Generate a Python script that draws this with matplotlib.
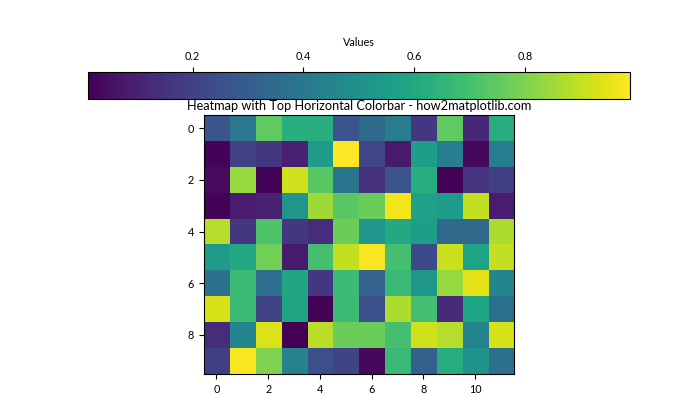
import numpy as np
from matplotlib import pyplot as plt

plt.rcParams['font.family'] = ['Lato', 'DejaVu Sans']
plt.rcParams['font.size'] = 7.8

# values (10 rows x 12 columns)
row0 = [0.27, 0.40, 0.75, 0.63, 0.63, 0.27, 0.35, 0.42, 0.17, 0.75, 0.12, 0.62]
row1 = [0.02, 0.20, 0.17, 0.10, 0.55, 0.99, 0.22, 0.08, 0.56, 0.43, 0.03, 0.42]
row2 = [0.04, 0.84, 0.02, 0.92, 0.74, 0.39, 0.15, 0.27, 0.62, 0.02, 0.16, 0.19]
row3 = [0.02, 0.09, 0.10, 0.52, 0.85, 0.74, 0.77, 0.97, 0.57, 0.55, 0.90, 0.09]
row4 = [0.88, 0.17, 0.72, 0.17, 0.14, 0.77, 0.52, 0.60, 0.56, 0.35, 0.35, 0.87]
row5 = [0.55, 0.60, 0.78, 0.08, 0.70, 0.90, 0.98, 0.70, 0.23, 0.91, 0.58, 0.90]
row6 = [0.38, 0.68, 0.36, 0.59, 0.17, 0.68, 0.32, 0.67, 0.53, 0.84, 0.95, 0.46]
row7 = [0.93, 0.68, 0.21, 0.59, 0.02, 0.68, 0.25, 0.87, 0.70, 0.13, 0.59, 0.37]
row8 = [0.14, 0.46, 0.94, 0.01, 0.89, 0.77, 0.77, 0.70, 0.92, 0.88, 0.45, 0.93]
row9 = [0.19, 0.98, 0.80, 0.45, 0.25, 0.21, 0.03, 0.67, 0.31, 0.62, 0.51, 0.37]

data = np.array([row0, row1, row2, row3, row4, row5, row6, row7, row8, row9])

fig, ax = plt.subplots(figsize=(7, 4.2), dpi=100)
im = ax.imshow(data, cmap='viridis')
cbar = plt.colorbar(im, ax=ax, orientation='horizontal', location='top')
cbar.set_label('Values')
ax.set_title('Heatmap with Top Horizontal Colorbar - how2matplotlib.com', fontsize=9.2, pad=4)

plt.savefig('out.png', dpi=100)
